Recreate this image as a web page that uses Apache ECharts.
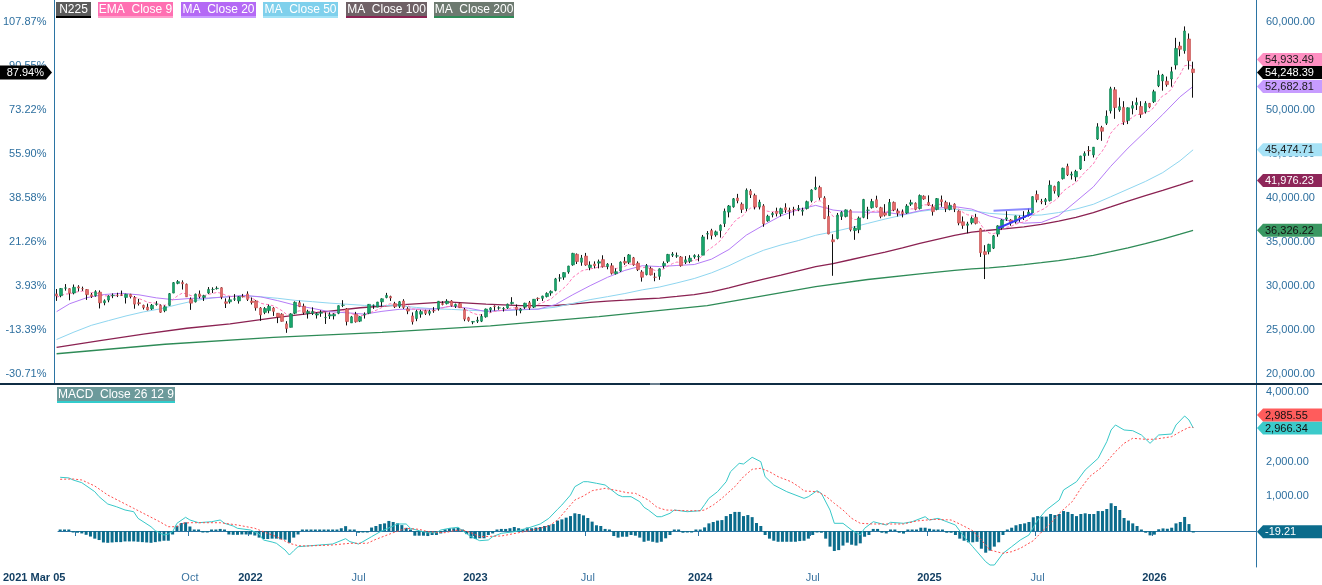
<!DOCTYPE html>
<html><head><meta charset="utf-8">
<script src="https://cdn.jsdelivr.net/npm/echarts@6/dist/echarts.min.js"></script>
<style>html,body{margin:0;padding:0;background:#fff}#c{width:1322px;height:585px}</style>
</head><body><div id="c"></div><script>
// ---------- DATA ----------
const startDate = '2021-03-05';
const slotCount = 277; // weekly slots on the axis (data + empty space on the right)

const tickDates = ['2021-03-05','2021-04-02','2021-10-01','2022-01-07','2022-07-01','2023-01-06','2023-07-07','2024-01-05','2024-07-05','2025-01-10','2025-07-04','2026-01-09'];
const tickTexts = ['2021 Mar 05','','Oct','2022','Jul','2023','Jul','2024','Jul','2025','Jul','2026'];

const opens = [29100,28900,29750,29700,29200,29900,29700,29600,29000,28900,29300,28100,28400,28900,28950,29000,28700,29050,28700,28100,27800,27600,27400,27900,27800,27200,27800,29200,30300,30400,30200,28500,28200,29100,28700,29200,29600,29700,29800,28200,28200,28500,28300,28800,
29100,28300,28300,27500,27000,27200,27500,26900,26800,25700,25300,26900,28100,27700,26900,26900,26700,26900,26400,26600,26600,26900,27800,27400,25800,26800,26000,26700,26900,27800,27600,28200,28700,28800,28000,27700,28300,27400,26600,26300,26800,27200,26900,27200,27400,28000,28000,28300,27700,28000,27300,26400,
25900,26000,26000,26500,27300,27700,27500,27400,27500,28000,27600,27200,27600,28100,27600,28600,28600,28800,29200,29500,30900,31000,31600,32400,33600,32700,33400,32100,32500,32600,33000,32200,32300,31400,31700,32800,32700,33200,32600,31600,31300,32000,31000,31100,32300,32800,33500,33400,33300,32700,32800,33300,
33300,33500,35900,36300,35800,36300,37100,38400,39000,40000,39300,38800,40800,40300,39000,39100,37400,38100,38500,38200,38900,38600,38700,38700,38500,38800,39700,41000,41200,40000,37900,35250,35400,37900,37900,38600,36300,36400,37800,38600,38900,39800,38900,38300,38000,39500,38500,38400,38300,39300,39400,38800,
40200,39500,39000,38700,39800,39500,38700,39300,38500,37300,36900,37200,37800,36500,33900,33900,34300,35900,36600,37600,37500,37300,37800,37800,38000,38300,40400,39600,39600,39700,41300,40300,42200,43600,42600,42400,43300,44800,45400,44900,46700,48000,48500,49900,52300,50000,50300,48800,50200,50600,50400,49800,50750,
50950,52760,53300,53270,53520,55110,57270,56740,58070,54660];

const highs = [29660,29770,30220,29740,30170,30090,29930,29640,29200,29520,29500,28480,28950,29160,29230,29480,29120,29110,28860,28540,27880,28000,27950,28280,27900,27800,29200,30450,30670,30640,30280,28700,29140,29490,29000,29880,29850,29960,29860,28600,28800,29080,28850,29100,
29390,28700,28400,27600,27600,27880,27600,26900,26900,26000,26900,28250,28340,28000,27300,27580,27000,27250,27000,27000,26900,27800,28390,27500,26600,27060,26600,27000,27950,27900,28200,28600,29220,28900,28200,28300,28500,27600,27000,27300,27300,27300,27300,27600,28300,28270,28500,28400,28000,28100,27500,26500,
26000,26500,26800,27440,27600,27800,27700,27600,28000,28730,27900,27500,28100,28300,28500,28700,28900,29280,29500,30920,31350,31560,32300,33770,33700,33530,33760,32800,32800,33000,33490,32600,32600,32000,32800,33300,33630,33300,32800,31800,32500,32200,31500,32000,32800,33650,33850,33800,33400,33400,33500,33600,
33600,35800,36240,36500,36300,37000,38800,39200,40000,40470,39500,41090,41000,40500,39800,39300,38100,38400,38900,38900,39400,38900,39000,39200,38900,39700,41000,42430,41400,40200,39200,35880,38300,38500,38700,38700,36800,37900,39900,39000,39900,40260,39000,39300,39890,39600,38800,38700,39300,39800,39500,40400,
40300,40300,39300,40000,40280,39700,39500,39400,38600,37900,37300,37900,38200,36600,34640,34800,35800,36900,37600,38500,37600,38000,38000,38500,38800,40200,40850,39900,40000,42000,41400,41900,43450,43900,43000,43200,44800,45300,45900,45800,48500,48200,49950,52640,52600,51400,51000,50300,51000,51400,51000,51000,50800,
52300,54500,54100,53800,54900,58200,57750,59500,58700,55490];

const lows = [28310,28720,29470,28380,29050,29390,29450,28420,28640,28790,27450,27810,28150,28620,28740,28880,28010,28590,27420,27780,27330,27230,27280,27760,26950,27020,27750,29180,30200,29600,28770,27290,28130,28600,28300,29100,29200,29600,28500,27500,28000,28300,28000,28700,
28300,27900,27200,26040,26800,26900,26600,25780,25960,24680,25300,26800,27600,26750,26300,26700,26300,26500,25690,26250,26200,26800,27600,25520,25800,25840,25900,26300,26800,27400,27600,27700,28600,28300,27500,27500,27400,26800,25620,26000,26400,26700,26650,26950,27200,27800,27900,27660,27500,27500,26000,25950,
25660,25800,25900,26400,27000,27200,27300,27100,27400,27900,26630,26900,27400,27300,27500,28300,28300,28700,28900,29400,30500,30700,31400,32300,32500,32300,32300,31790,32000,32000,32100,31900,31300,31300,31600,32400,32500,32300,31700,30500,31200,31200,30540,30700,32000,32600,33300,33200,32200,32500,32600,33100,
32800,33500,35300,35300,35600,35500,36700,37800,38900,39400,38300,38500,40000,38700,38700,36730,37300,37800,37900,37900,38300,37600,38000,38500,38000,38700,39500,40900,39800,37600,35880,31160,35300,37500,37800,36200,35250,36000,37700,37600,38800,38900,37700,37900,38000,38500,37900,37800,38200,39100,38600,38700,
39800,39100,38000,38600,39000,38400,38600,38400,36900,36500,35990,37000,37000,33300,30790,33600,34200,35600,36400,37400,36850,37100,37300,37500,37900,38300,39500,39300,39200,39600,40500,40100,42100,42500,42100,41900,43200,44200,44800,44600,46600,46500,48300,49600,49000,49800,48300,48400,49500,50000,49100,49600,50200,
50800,52600,52200,52650,52650,54600,56100,56400,54600,51400];

const closes = [28864.32,29717,29792,29176,29854,29768,29683,29020,28812,29357,28084,28317,28860,28941,28948,28964,29066,28783,27940,28003,27548,27283,27820,27977,27013,27641,29128,30381,30500,30249,28771,28049,29069,28805,28893,29612,29610,29746,28752,28030,28438,28546,28782,28792,
28479,28124,27522,26717,27440,27696,27122,26477,25985,25163,26827,28150,27666,26985,27093,27105,26848,27004,26428,26739,26782,27762,27824,25963,26491,25936,26517,26788,27915,27802,28176,28547,28930,28641,27650,28214,27568,27153,25937,27116,27091,26891,27105,27199,28264,27900,28283,27777,27901,27527,26235,26095,
25974,26120,26553,27383,27509,27671,27513,27453,27927,28144,27334,27385,28041,27518,28493,28564,28856,29157,29388,30808,30916,31524,32265,33706,32781,33189,32388,32391,32304,32759,32192,32474,31450,31624,32710,32606,33533,32402,31858,30995,32315,31259,30991,31950,32568,33585,33625,33431,32307,32970,33169,33464,
33377,35577,35963,35751,36158,36897,38487,39098,39911,39689,38708,40888,40369,38992,39523,37068,37934,38236,38229,38787,38647,38488,38684,38815,38596,39583,40912,41190,40064,37667,35910,35025,38063,38364,38648,36391,36581,37724,39830,38636,39605,38982,37914,38054,39500,38643,38284,38208,39091,39470,38702,40281,
39894,39190,38451,39931,39572,38787,39149,38776,37155,36887,37053,37677,37120,33780,33586,34730,35705,36831,37503,37753,37160,37965,37742,37834,38403,40150,39811,39570,39819,41456,40800,41820,43378,42633,42718,43018,44768,45045,45355,45769,48088,47582,49299,52411,50276,50376,48625,50253,50491,50836,49507,50750,50339,
52080,53980,53980,52890,54350,57000,56900,58980,55600,54248.39];

const ema9 = [28709,28911,29087,29105,29255,29358,29423,29342,29236,29260,29025,28883,28878,28891,28902,28914,28944,28912,28718,28575,28370,28153,28086,28064,27854,27811,28074,28535,28928,29192,29108,28896,28931,28906,28903,29045,29158,29276,29171,28943,28842,28783,28783,28785,
28724,28604,28388,28054,27931,27884,27732,27481,27182,26778,26788,27060,27181,27142,27132,27127,27071,27058,26932,26893,26871,27049,27204,26956,26863,26678,26646,26674,26922,27098,27314,27561,27835,27996,27927,27984,27901,27751,27388,27334,27285,27206,27186,27189,27404,27503,27659,27683,27727,27687,27397,27137,
26904,26747,26708,26843,26976,27115,27195,27247,27383,27535,27495,27473,27587,27573,27757,27918,28106,28316,28530,28986,29372,29802,30295,30977,31338,31708,31844,31953,32023,32170,32174,32234,32077,31986,32131,32226,32487,32470,32348,32077,32125,31952,31760,31798,31952,32279,32548,32725,32641,32707,32799,32932,
33021,33532,34018,34365,34724,35159,35825,36480,37166,37671,37878,38480,38858,38885,39013,38624,38486,38436,38395,38473,38508,38504,38540,38595,38595,38793,39217,39612,39702,39295,38618,37899,37932,38018,38144,37793,37551,37586,38035,38155,38445,38552,38424,38350,38580,38593,38531,38466,38591,38767,38754,39059,
39226,39219,39065,39238,39305,39201,39191,39108,38717,38351,38091,38008,37830,37020,36333,36012,35951,36127,36402,36672,36770,37009,37156,37292,37514,38041,38395,38630,38868,39386,39669,40099,40755,41131,41448,41762,42363,42899,43390,43866,44710,45284,46087,47352,47937,48425,48465,48823,49157,49493,49496,49747,49865,
50308,51042,51630,51882,52376,53301,54021,55013,55130,54933.49];

// moving averages read at sample weeks: [week index, value]
const ma20 = [[0,27087],[3,27980],[7,28681],[11,29034],[15,29172],[19,28997],[23,28651],[27,28443],[31,28593],[35,28627],[39,28744],[43,28941],[47,28775],[51,28333],[55,27820],[59,27456],[63,27079],[67,26953],[71,26803],[75,27119],[79,27348],[83,27386],[87,27384],[91,27708],[95,27474],[99,27104],[103,27223],[107,27348],[111,27367],[115,27890],[119,29009],[123,30039],[127,30986],[131,31774],[135,32303],[139,32209],[143,32332],[147,32441],[151,33055],[155,34147],[159,35781],[163,36918],[167,37982],[171,38681],[175,39163],[179,38636],[183,38412],[187,38391],[191,38387],[195,38105],[199,38549],[203,38849],[207,39024],[211,38735],[215,37964],[219,37477],[223,37138],[227,37221],[231,37977],[235,39604],[239,41261],[243,43595],[247,45675],[251,47559],[255,49491],[259,51501],[262,52682.81]];
const ma50 = [[0,23926],[4,24764],[8,25528],[12,26072],[16,26598],[20,27054],[24,27410],[28,27903],[32,28355],[36,28656],[40,28819],[44,28856],[48,28733],[51,28604],[55,28368],[59,28216],[63,28053],[67,27925],[71,27795],[75,27796],[79,27747],[83,27563],[87,27404],[91,27341],[95,27243],[99,27167],[103,27222],[107,27288],[111,27381],[115,27592],[119,28020],[123,28453],[127,28789],[131,29145],[135,29560],[139,29885],[143,30349],[147,30850],[151,31501],[155,32305],[159,33254],[163,34065],[167,34663],[171,35164],[175,35765],[179,36157],[183,36614],[187,37117],[191,37611],[195,38052],[199,38477],[203,38713],[207,38741],[211,38565],[215,38258],[219,38135],[223,38000],[227,38069],[231,38346],[235,38739],[239,39284],[243,40140],[247,41009],[251,41878],[255,42885],[259,44237],[262,45474.71]];
const ma100 = [[0,23030],[10,23800],[20,24540],[30,25200],[40,25690],[50,26390],[60,26970],[70,27530],[80,27890],[90,28190],[99,27930],[103,27856],[107,27780],[111,27761],[115,27786],[119,27932],[123,28133],[127,28289],[131,28397],[135,28521],[139,28625],[143,28811],[147,29022],[151,29341],[155,29786],[159,30290],[163,30779],[167,31228],[171,31717],[175,32195],[179,32548],[183,32984],[187,33429],[191,33853],[195,34321],[199,34837],[203,35310],[207,35765],[211,36126],[215,36336],[219,36530],[223,36730],[227,37012],[231,37367],[235,37796],[239,38341],[243,38982],[247,39658],[251,40268],[255,40865],[259,41484],[262,41976.23]];
const ma200 = [[0,22300],[25,23380],[50,24170],[75,24720],[100,25460],[125,26520],[150,27780],[175,29940],[187,30740],[199,31383],[203,31583],[207,31772],[211,31943],[215,32061],[219,32231],[223,32431],[227,32650],[231,32882],[235,33159],[239,33483],[243,33897],[247,34340],[251,34804],[255,35326],[259,35887],[262,36326.22]];

// MACD panel
const macdLine = [[0,1548],[2,1530],[3,1470],[5,1392],[8,1133],[9,989],[11,778],[13,700],[15,605],[17,556],[18,365],[21,124],[22,9],[24,-115],[25,-86],[26,-20],[27,222],[29,395],[30,317],[32,239],[35,268],[37,317],[38,222],[40,144],[41,78],[44,29],[46,-86],[47,-259],[49,-317],[50,-354],[52,-548],[53,-692],[54,-567],[55,-452],[57,-432],[60,-403],[63,-375],[66,-221],[67,-307],[69,-375],[70,-307],[72,-163],[74,-20],[77,144],[78,202],[80,202],[81,78],[83,9],[85,-49],[87,-49],[88,29],[90,78],[92,107],[93,9],[95,-163],[97,-279],[99,-259],[100,-163],[102,-67],[105,-20],[108,78],[111,202],[113,365],[115,625],[116,749],[118,1037],[119,1277],[121,1421],[122,1421],[124,1375],[126,1326],[127,1230],[129,1037],[130,989],[132,989],[134,845],[135,683],[136,605],[138,412],[139,412],[141,510],[142,605],[145,556],[148,585],[149,760],[150,941],[152,1133],[154,1421],[155,1709],[157,1950],[158,1931],[160,2124],[162,1997],[163,1565],[165,1326],[168,1133],[172,941],[173,989],[175,1162],[176,1085],[178,605],[179,222],[181,222],[183,29],[185,-115],[186,78],[188,268],[191,173],[192,251],[195,222],[197,268],[200,412],[201,317],[203,365],[205,268],[207,173],[209,-163],[211,-452],[214,-884],[215,-980],[216,-980],[218,-644],[220,-452],[222,-259],[224,-115],[226,317],[228,605],[231,893],[232,1182],[235,1421],[237,1758],[240,2095],[242,2574],[243,2911],[244,3055],[246,2911],[248,2890],[250,2767],[252,2527],[254,2767],[257,2795],[258,3055],[260,3314],[261,3199],[262,2966.34]];
const signalLine = [[0,1490],[3,1499],[5,1470],[8,1297],[11,1037],[14,845],[17,653],[20,461],[23,268],[25,124],[27,124],[28,222],[30,239],[37,239],[41,173],[45,78],[47,-20],[50,-163],[53,-354],[55,-423],[57,-432],[63,-403],[67,-354],[71,-354],[73,-240],[77,-49],[80,78],[83,49],[85,-20],[89,-49],[91,9],[93,29],[95,-49],[97,-163],[102,-144],[106,-49],[110,49],[113,144],[115,317],[117,605],[119,893],[121,1009],[123,1162],[126,1230],[129,1162],[131,1105],[133,1085],[136,893],[138,683],[140,605],[145,585],[148,585],[149,605],[151,749],[153,941],[156,1277],[158,1565],[160,1778],[162,1807],[164,1709],[166,1565],[169,1421],[171,1259],[172,1153],[175,1133],[177,1009],[179,798],[181,605],[183,365],[185,222],[188,202],[195,202],[198,288],[202,337],[206,317],[208,202],[211,9],[213,-259],[215,-548],[218,-644],[220,-596],[222,-499],[225,-279],[227,-20],[229,222],[231,510],[234,845],[236,1230],[238,1565],[241,1853],[244,2285],[246,2527],[248,2671],[251,2643],[253,2643],[257,2718],[259,2862],[261,2988],[262,2985.55]];
const histogram = [40,30,0,-30,-50,-70,-110,-160,-220,-260,-330,-340,-330,-320,-320,-300,-300,-300,-310,-320,-330,-340,-320,-300,-280,-280,-100,150,230,250,130,0,0,-20,-30,0,40,60,0,-100,-110,-110,-100,-100,-100,-130,-190,-230,-230,-220,-220,-240,-250,-340,-190,-100,0,0,0,30,30,30,0,0,0,80,140,30,0,-50,-40,-40,100,145,200,220,290,260,220,170,90,30,-135,-135,-135,-145,-115,-115,-70,50,80,80,90,20,-90,-210,-230,-210,-210,-115,-70,30,60,60,80,115,80,60,100,80,100,115,145,170,200,300,335,385,430,510,490,450,375,270,165,145,60,0,-145,-190,-165,-165,-115,-135,-190,-310,-280,-310,-335,-310,-210,-115,0,30,-50,-40,-40,0,0,105,220,260,300,315,430,490,550,550,430,460,400,230,145,-115,-220,-280,-310,-310,-310,-310,-310,-290,-280,-220,-115,-10,-50,-220,-450,-575,-550,-420,-335,-395,-420,-355,-165,-115,60,60,-50,-70,30,0,-50,-75,0,30,0,95,95,65,0,30,30,-50,-50,-115,-220,-280,-325,-325,-310,-510,-625,-565,-450,-325,-115,30,95,165,200,220,260,395,430,415,415,490,460,490,575,550,490,430,490,510,490,490,575,575,635,800,720,605,375,300,220,145,0,-50,-125,-105,50,75,65,95,220,260,405,200,-19.21];

// user-drawn trend lines: [[week, price], [week, price]]
const trendLines = [[[216,38560],[225,38790]],[[217,36560],[225,38260]]];

// ---------- CHART ----------
const categories = [];
const d0 = new Date(startDate + 'T00:00:00Z');
for (let k = 0; k < slotCount; k++) categories.push(new Date(d0.getTime() + k * 7 * 86400000).toISOString().slice(0, 10));

const FONT = '"Liberation Sans", Arial, sans-serif';
const AXIS = '#2b74a3';
const LBL = '#2d6f9f';
const base = closes[0];
const priceMin = 18864, priceMax = 62500;
const macdMin = -1037, macdMax = 4207;

const fmtNum = v => v.toLocaleString('en-US', {minimumFractionDigits: 2, maximumFractionDigits: 2});

const wickData = opens.map((o, i) => [o, closes[i], lows[i], highs[i]]);
const bodyData = opens.map((o, i) => [o, closes[i], Math.min(o, closes[i]), Math.max(o, closes[i])]);

const chart = echarts.init(document.getElementById('c'), null, {renderer: 'canvas'});

function lineSeries(name, data, color, width, dash) {
  return {name, type: 'line', xAxisIndex: 0, yAxisIndex: 1, data, symbol: 'none', z: 2,
    lineStyle: {color, width, type: dash || 'solid'}, silent: true};
}

const option = {
  animation: false,
  backgroundColor: '#ffffff',
  textStyle: {fontFamily: FONT},
  grid: [
    {left: 52, right: 66, top: 0, height: 384},
    {left: 52, right: 66, top: 385, height: 182}
  ],
  xAxis: [
    {type: 'category', gridIndex: 0, data: categories, boundaryGap: true, show: false},
    {type: 'category', gridIndex: 1, data: categories, boundaryGap: true,
      axisLine: {show: true, lineStyle: {color: AXIS, width: 1}},
      axisTick: {show: true, length: 5, lineStyle: {color: AXIS},
        interval: (idx, val) => idx > 0 && tickDates.indexOf(val) >= 0},
      axisLabel: {show: true, margin: 5, fontFamily: FONT, fontSize: 11, color: LBL,
        interval: (idx, val) => { const k = tickDates.indexOf(val); return k >= 0 && tickTexts[k] !== ''; },
        formatter: val => { const k = tickDates.indexOf(val); if (k < 0) return ''; const t = tickTexts[k];
          if (k === 0) return '{f|' + t + '}'; if (/^\d{4}$/.test(t)) return '{y|' + t + '}'; return '{m|' + t + '}'; },
        rich: {
          f: {fontFamily: FONT, fontSize: 11, fontWeight: 'bold', color: '#123f63', padding: [0, 52, 0, 0]},
          y: {fontFamily: FONT, fontSize: 11, fontWeight: 'bold', color: '#123f63'},
          m: {fontFamily: FONT, fontSize: 11, color: '#3a73a0'}
        }},
      splitLine: {show: false}}
  ],
  yAxis: [
    {type: 'value', gridIndex: 0, position: 'left', min: priceMin, max: priceMax, splitNumber: 9,
      axisLine: {show: true, lineStyle: {color: AXIS}}, axisTick: {show: false}, splitLine: {show: false},
      axisLabel: {fontFamily: FONT, fontSize: 11, color: LBL, margin: 8,
        formatter: v => (Math.round(v) % 5000 === 0) ? ((v / base - 1) * 100).toFixed(2) + '%' : ''}},
    {type: 'value', gridIndex: 0, position: 'right', min: priceMin, max: priceMax, splitNumber: 9,
      axisLine: {show: true, lineStyle: {color: AXIS}}, axisTick: {show: false}, splitLine: {show: false},
      axisLabel: {fontFamily: FONT, fontSize: 11, color: LBL, margin: 10,
        formatter: v => (Math.round(v) % 5000 === 0) ? fmtNum(v) : ''}},
    {type: 'value', gridIndex: 1, position: 'right', min: macdMin, max: macdMax, splitNumber: 5,
      axisLine: {show: true, lineStyle: {color: AXIS}}, axisTick: {show: false}, splitLine: {show: false},
      axisLabel: {fontFamily: FONT, fontSize: 11, color: LBL, margin: 10,
        formatter: v => (Math.round(v) % 1000 === 0 && v >= 0) ? fmtNum(v) : ''}}
  ],
  series: [
    lineSeries('MA Close 200', ma200, '#2e8b57', 1.3),
    lineSeries('MA Close 100', ma100, '#8b2252', 1.3),
    lineSeries('MA Close 50', ma50, '#8fd6f0', 1),
    lineSeries('MA Close 20', ma20, '#b57cf7', 1),
    lineSeries('EMA Close 9', ema9, '#ff77b8', 1, [3, 2]),
    {name: 'wicks', type: 'candlestick', xAxisIndex: 0, yAxisIndex: 1, data: wickData, barWidth: 1, z: 3, silent: true,
      itemStyle: {color: '#111', color0: '#111', borderColor: '#111', borderColor0: '#111', borderWidth: 1}},
    {name: 'N225', type: 'candlestick', xAxisIndex: 0, yAxisIndex: 1, data: bodyData, barWidth: 3, z: 4, silent: true,
      itemStyle: {color: '#18a56b', color0: '#e46b6b', borderColor: '#0f8050', borderColor0: '#c04848', borderWidth: 0.6},
      markLine: {symbol: 'none', silent: true, label: {show: false}, animation: false,
        data: trendLines.map((t, k) => [
          {coord: t[0], lineStyle: {color: k === 0 ? 'rgba(100,100,255,0.75)' : '#3a3af5', width: 2, type: 'solid'}},
          {coord: t[1]}])}},
    {name: 'Histogram', type: 'bar', xAxisIndex: 1, yAxisIndex: 2, data: histogram, barWidth: 3, barMinHeight: 1.5,
      itemStyle: {color: '#0b6c8c'}, silent: true},
    {name: 'MACD', type: 'line', xAxisIndex: 1, yAxisIndex: 2, data: macdLine, symbol: 'none',
      lineStyle: {color: '#38c8c8', width: 1}, silent: true, z: 3},
    {name: 'Signal', type: 'line', xAxisIndex: 1, yAxisIndex: 2, data: signalLine, symbol: 'none',
      lineStyle: {color: '#ff4d4d', width: 1, type: [2, 2]}, silent: true, z: 3}
  ]
};
chart.setOption(option);

// ---------- overlays: legends & value tags ----------
const g = [];
g.push({type: 'rect', shape: {x: 0, y: 383, width: 1322, height: 2}, style: {fill: '#0f2d44'}, z: 50});
g.push({type: 'rect', shape: {x: 650, y: 383.5, width: 10, height: 1}, style: {fill: '#c8d2da'}, z: 51});

const legends = [
  {t: 'N225', x: 56, w: 35, bg: '#5b5b5b', ul: '#000000'},
  {t: 'EMA  Close 9', x: 98, w: 75, bg: '#ff6fb2', ul: '#ff9fcb'},
  {t: 'MA  Close 20', x: 181, w: 75, bg: '#b469f5', ul: '#c99cff'},
  {t: 'MA  Close 50', x: 263, w: 75, bg: '#7fd0ec', ul: '#a3e2f6'},
  {t: 'MA  Close 100', x: 346, w: 81, bg: '#6f6166', ul: '#8b2252'},
  {t: 'MA  Close 200', x: 434, w: 80, bg: '#6d7a70', ul: '#2e8b57'},
  {t: 'MACD  Close 26 12 9', x: 57, w: 118, bg: '#6c9a9b', ul: '#33cccc', y: 387}
];
legends.forEach(l => {
  const y = l.y || 2;
  g.push({type: 'rect', shape: {x: l.x, y: y, width: l.w, height: 15}, style: {fill: l.bg}, z: 50});
  g.push({type: 'rect', shape: {x: l.x, y: y + 14, width: l.w, height: 2}, style: {fill: l.ul}, z: 51});
  g.push({type: 'text', x: l.x + l.w / 2, y: y + 7.5, z: 52,
    style: {text: l.t, fill: '#ffffff', font: '12px ' + FONT, align: 'center', verticalAlign: 'middle'}});
});

function placeTags(items, h) {
  const placed = [];
  items.forEach(it => {
    let y = chart.convertToPixel({yAxisIndex: it.axis}, it.v);
    for (let guard = 0; guard < 8; guard++) {
      let moved = false;
      for (const p of placed) {
        if (Math.abs(y - p) < h) { y = (y <= p) ? p - h : p + h; moved = true; }
      }
      if (!moved) break;
    }
    placed.push(y);
    const x0 = 1257, xr = 1322;
    g.push({type: 'polygon', z: 60, shape: {points: [[x0, y], [x0 + 6, y - h / 2], [xr, y - h / 2], [xr, y + h / 2], [x0 + 6, y + h / 2]]},
      style: {fill: it.bg}});
    g.push({type: 'text', x: 1265, y: y + 0.5, z: 61,
      style: {text: it.text, fill: it.fg, font: '11px ' + FONT, align: 'left', verticalAlign: 'middle'}});
  });
}
const last = closes.length - 1;
placeTags([
  {axis: 1, v: closes[last], bg: '#000000', fg: '#ffffff', text: fmtNum(closes[last])},
  {axis: 1, v: ema9[last], bg: '#ff8fc2', fg: '#1a1a1a', text: fmtNum(ema9[last])},
  {axis: 1, v: ma20[ma20.length - 1][1], bg: '#c79cff', fg: '#1a1a1a', text: fmtNum(ma20[ma20.length - 1][1])},
  {axis: 1, v: ma50[ma50.length - 1][1], bg: '#a6e2f6', fg: '#1a1a1a', text: fmtNum(ma50[ma50.length - 1][1])},
  {axis: 1, v: ma100[ma100.length - 1][1], bg: '#8e2659', fg: '#ffffff', text: fmtNum(ma100[ma100.length - 1][1])},
  {axis: 1, v: ma200[ma200.length - 1][1], bg: '#3a9862', fg: '#111111', text: fmtNum(ma200[ma200.length - 1][1])}
], 13);
placeTags([
  {axis: 2, v: histogram[last], bg: '#0b6c8c', fg: '#ffffff', text: fmtNum(histogram[last])},
  {axis: 2, v: macdLine[macdLine.length - 1][1], bg: '#3ccaca', fg: '#111111', text: fmtNum(macdLine[macdLine.length - 1][1])},
  {axis: 2, v: signalLine[signalLine.length - 1][1], bg: '#ff5c5c', fg: '#111111', text: fmtNum(signalLine[signalLine.length - 1][1])}
], 13);

// left percentage tag
const yl = chart.convertToPixel({yAxisIndex: 0}, closes[last]);
g.push({type: 'polygon', z: 60, shape: {points: [[0, yl - 7], [46, yl - 7], [52, yl], [46, yl + 7], [0, yl + 7]]}, style: {fill: '#000000'}});
g.push({type: 'text', x: 44, y: yl + 0.5, z: 61,
  style: {text: ((closes[last] / base - 1) * 100).toFixed(2) + '%', fill: '#ffffff', font: '11px ' + FONT, align: 'right', verticalAlign: 'middle'}});

chart.setOption({graphic: g});
</script></body></html>
